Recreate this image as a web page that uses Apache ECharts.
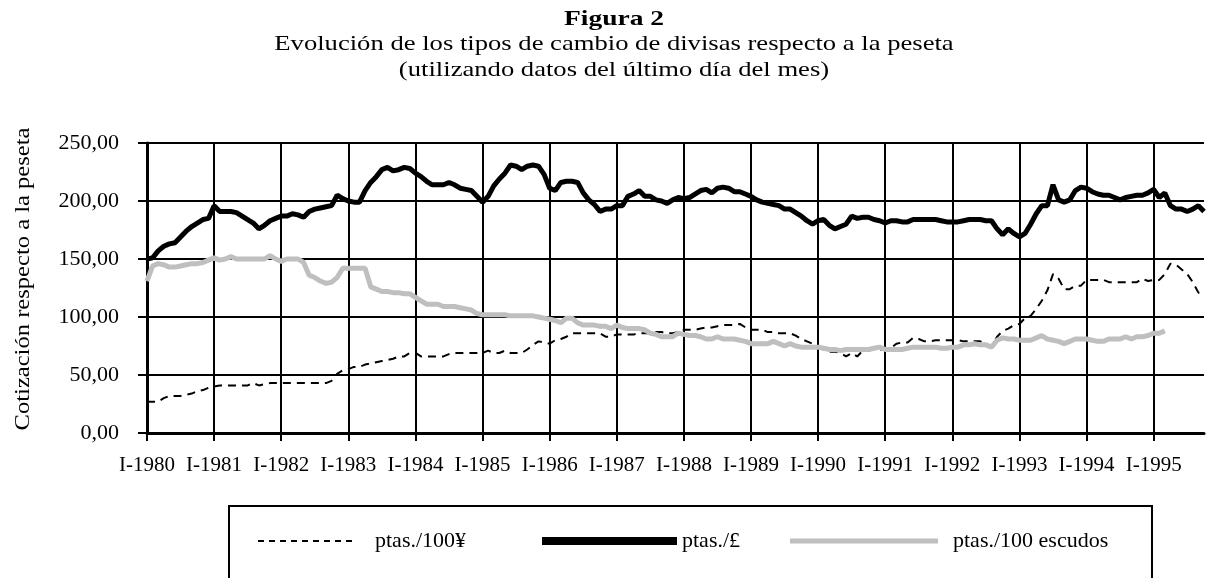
<!DOCTYPE html>
<html>
<head>
<meta charset="utf-8">
<script src="https://cdn.jsdelivr.net/npm/echarts@6/dist/echarts.min.js"></script>
<style>
  html, body { margin: 0; padding: 0; background: #fff; }
  #chart { width: 1207px; height: 578px; }
</style>
</head>
<body>
<div id="chart"></div>
<script>
// meses en números romanos, enero 1980 - octubre 1995
var monthNames = ['I', 'II', 'III', 'IV', 'V', 'VI', 'VII', 'VIII', 'IX', 'X', 'XI', 'XII'];
var years = [1980, 1981, 1982, 1983, 1984, 1985, 1986, 1987, 1988, 1989, 1990, 1991, 1992, 1993, 1994, 1995];
var monthCount = 190;

var yTicks = [0, 50, 100, 150, 200, 250];

// ptas./100 yenes
var yen = [
  27, 27, 27, 30, 32, 32, 32, 33, 34, 36, 37, 39,
  40, 41, 41, 41, 41, 41, 41, 43, 41, 42, 43, 43,
  43, 43, 43, 43, 43, 43, 43, 43, 43, 45, 51, 54,
  55, 57, 57, 59, 60, 61, 62, 63, 64, 66, 66, 69,
  69, 66, 66, 66, 66, 66, 68, 69, 69, 69, 69, 69,
  69, 71, 69, 69, 71, 69, 69, 69, 72, 76, 79, 78,
  77, 80, 81, 83, 86, 86, 86, 86, 86, 86, 83, 83,
  85, 85, 85, 85, 86, 86, 86, 87, 87, 86, 86, 87,
  89, 89, 89, 90, 91, 91, 92, 93, 93, 93, 94, 91,
  89, 89, 89, 87, 87, 86, 86, 86, 84, 81, 79, 77,
  74, 72, 70, 70, 69, 66, 69, 66, 71, 71, 72, 72,
  72, 73, 77, 78, 78, 82, 81, 79, 79, 80, 80, 80,
  80, 80, 79, 79, 79, 79, 77, 74, 83, 88, 90, 93,
  94, 99, 101, 107, 114, 123, 137, 133, 124, 124, 127, 127,
  132, 132, 132, 132, 130, 130, 130, 130, 130, 130, 133, 131,
  132, 132, 137, 146, 145, 141, 137, 130, 121, 121
];

// ptas./libra
var libra = [
  150, 151, 157, 161, 163, 164, 169, 174, 178, 181, 184, 185,
  196, 191, 191, 191, 190, 187, 184, 181, 176, 179, 183, 185,
  187, 187, 189, 188, 186, 191, 193, 194, 195, 196, 205, 202,
  200, 199, 199, 209, 216, 221, 227, 229, 226, 227, 229, 228,
  224, 221, 217, 214, 214, 214, 216, 214, 211, 210, 209, 204,
  199, 204, 213, 219, 224, 231, 230, 227, 230, 231, 230, 223,
  211, 209, 216, 217, 217, 216, 207, 201, 197, 191, 193, 193,
  196, 196, 204, 206, 209, 204, 204, 201, 200, 198, 201, 203,
  202, 203, 206, 209, 210, 207, 211, 212, 211, 208, 208, 206,
  204, 201, 199, 198, 197, 196, 193, 193, 190, 187, 183, 180,
  183, 184, 179, 176, 178, 180, 187, 185, 186, 186, 184, 183,
  181, 183, 183, 182, 182, 184, 184, 184, 184, 184, 183, 182,
  182, 182, 183, 184, 184, 184, 183, 183, 176, 171, 176, 172,
  169, 172, 180, 189, 196, 196, 214, 201, 199, 201, 209, 212,
  211, 208, 206, 205, 205, 203, 201, 203, 204, 205, 205, 207,
  210, 203, 207, 196, 193, 193, 191, 193, 196, 191
];

// ptas./100 escudos (hasta marzo 1995)
var escudos = [
  131, 144, 146, 145, 143, 143, 144, 145, 146, 146, 147, 149,
  151, 149, 150, 152, 150, 150, 150, 150, 150, 150, 153, 150,
  148, 150, 150, 150, 147, 136, 134, 131, 129, 130, 134, 142,
  142, 142, 142, 142, 126, 124, 122, 122, 121, 121, 120, 120,
  117, 114, 111, 111, 111, 109, 109, 109, 108, 107, 106, 103,
  102, 102, 102, 102, 102, 101, 101, 101, 101, 101, 100, 99,
  98, 97, 95, 99, 99, 95, 93, 93, 93, 92, 92, 90,
  93, 91, 90, 90, 90, 89, 86, 85, 83, 83, 83, 86,
  85, 84, 84, 83, 81, 81, 83, 81, 81, 81, 80, 79,
  77, 77, 77, 77, 79, 77, 75, 77, 75, 74, 74, 74,
  74, 73, 72, 72, 71, 72, 72, 72, 72, 72, 73, 74,
  72, 72, 72, 72, 73, 74, 74, 74, 74, 74, 73, 73,
  74, 74, 76, 76, 77, 76, 76, 74, 80, 82, 81, 81,
  80, 80, 80, 82, 84, 81, 80, 79, 77, 79, 81, 81,
  81, 80, 79, 79, 81, 81, 81, 83, 81, 83, 83, 84,
  86, 86, 88
];

var categories = [];
years.forEach(function (y) {
  monthNames.forEach(function (m) {
    if (categories.length < monthCount) categories.push(m + '-' + y);
  });
});

var serif = 'Liberation Serif';
var grey = '#bfbfbf';
// trazos del icono de la leyenda
var dashIcon = 'path://M0 0h6v2h-6z M11 0h6v2h-6z M22 0h6v2h-6z M33 0h6v2h-6z M44 0h6v2h-6z ' +
  'M55 0h6v2h-6z M66 0h6v2h-6z M77 0h6v2h-6z M88 0h6v2h-6z';

var chart = echarts.init(document.getElementById('chart'));

function yearOnly(idx) {
  return idx % 12 === 0;
}

function titleLine(text, y, bold) {
  return {
    type: 'text', x: 614, y: y, scaleX: bold ? 1.25 : 1.21,
    style: {
      text: text, align: 'center', fontFamily: serif, fontSize: 22,
      fontWeight: bold ? 'bold' : 'normal', fill: '#000'
    }
  };
}

chart.setOption({
  animation: false,
  backgroundColor: '#fff',
  textStyle: { fontFamily: serif, color: '#000' },
  graphic: [
    titleLine('Figura 2', 8, true),
    titleLine('Evolución de los tipos de cambio de divisas respecto a la peseta', 33, false),
    titleLine('(utilizando datos del último día del mes)', 59, false),
    {
      type: 'text', x: 23, y: 279, rotation: Math.PI / 2, scaleX: 1.17,
      style: {
        text: 'Cotización respecto a la peseta', align: 'center', verticalAlign: 'middle',
        fontFamily: serif, fontSize: 21, fill: '#000'
      }
    },
    {
      type: 'rect', silent: true,
      shape: { x: 229, y: 506, width: 923, height: 120 },
      style: { fill: 'none', stroke: '#000', lineWidth: 2 }
    }
  ],
  grid: { left: 147, right: 3, top: 143, bottom: 145 },
  legend: [
    {
      left: 258, top: 530, padding: 0, itemWidth: 94, itemHeight: 2,
      textStyle: { fontFamily: serif, fontSize: 22, color: '#000', padding: [0, 0, 0, 18] },
      data: [{ name: 'ptas./100¥', icon: dashIcon, itemStyle: { color: '#000' } }]
    },
    {
      left: 542, top: 530, padding: 0, itemWidth: 135, itemHeight: 8,
      textStyle: { fontFamily: serif, fontSize: 22, color: '#000' },
      data: [{ name: 'ptas./£', icon: 'rect', itemStyle: { color: '#000' } }]
    },
    {
      left: 790, top: 530, padding: 0, itemWidth: 148, itemHeight: 5,
      textStyle: { fontFamily: serif, fontSize: 22, color: '#000', padding: [0, 0, 0, 10] },
      data: [{ name: 'ptas./100 escudos', icon: 'rect', itemStyle: { color: grey } }]
    }
  ],
  xAxis: {
    type: 'category',
    boundaryGap: false,
    data: categories,
    axisLine: { lineStyle: { color: '#000', width: 3 } },
    axisTick: { show: true, interval: yearOnly, length: 8, lineStyle: { color: '#000', width: 2 } },
    axisLabel: { interval: yearOnly, fontFamily: serif, fontSize: 21, color: '#000', margin: 22 },
    splitLine: { show: true, interval: yearOnly, lineStyle: { color: '#000', width: 2 } }
  },
  yAxis: {
    type: 'value',
    min: yTicks[0],
    max: yTicks[yTicks.length - 1],
    interval: 50,
    axisLine: { show: true, lineStyle: { color: '#000', width: 3 } },
    axisTick: { show: true, length: 9, lineStyle: { color: '#000', width: 2 } },
    axisLabel: {
      fontFamily: serif, fontSize: 22, color: '#000', margin: 28,
      formatter: function (v) { return v.toFixed(2).replace('.', ','); }
    },
    splitLine: { show: true, lineStyle: { color: '#000', width: 2 } }
  },
  series: [
    {
      name: 'ptas./100¥', type: 'line', data: yen, symbol: 'none',
      lineStyle: { color: '#000', width: 2, type: [8, 6] }, itemStyle: { color: '#000' }
    },
    {
      name: 'ptas./£', type: 'line', data: libra, symbol: 'none',
      lineStyle: { color: '#000', width: 5 }, itemStyle: { color: '#000' }
    },
    {
      name: 'ptas./100 escudos', type: 'line', data: escudos, symbol: 'none',
      lineStyle: { color: grey, width: 5 }, itemStyle: { color: grey }
    }
  ]
});
</script>
</body>
</html>
